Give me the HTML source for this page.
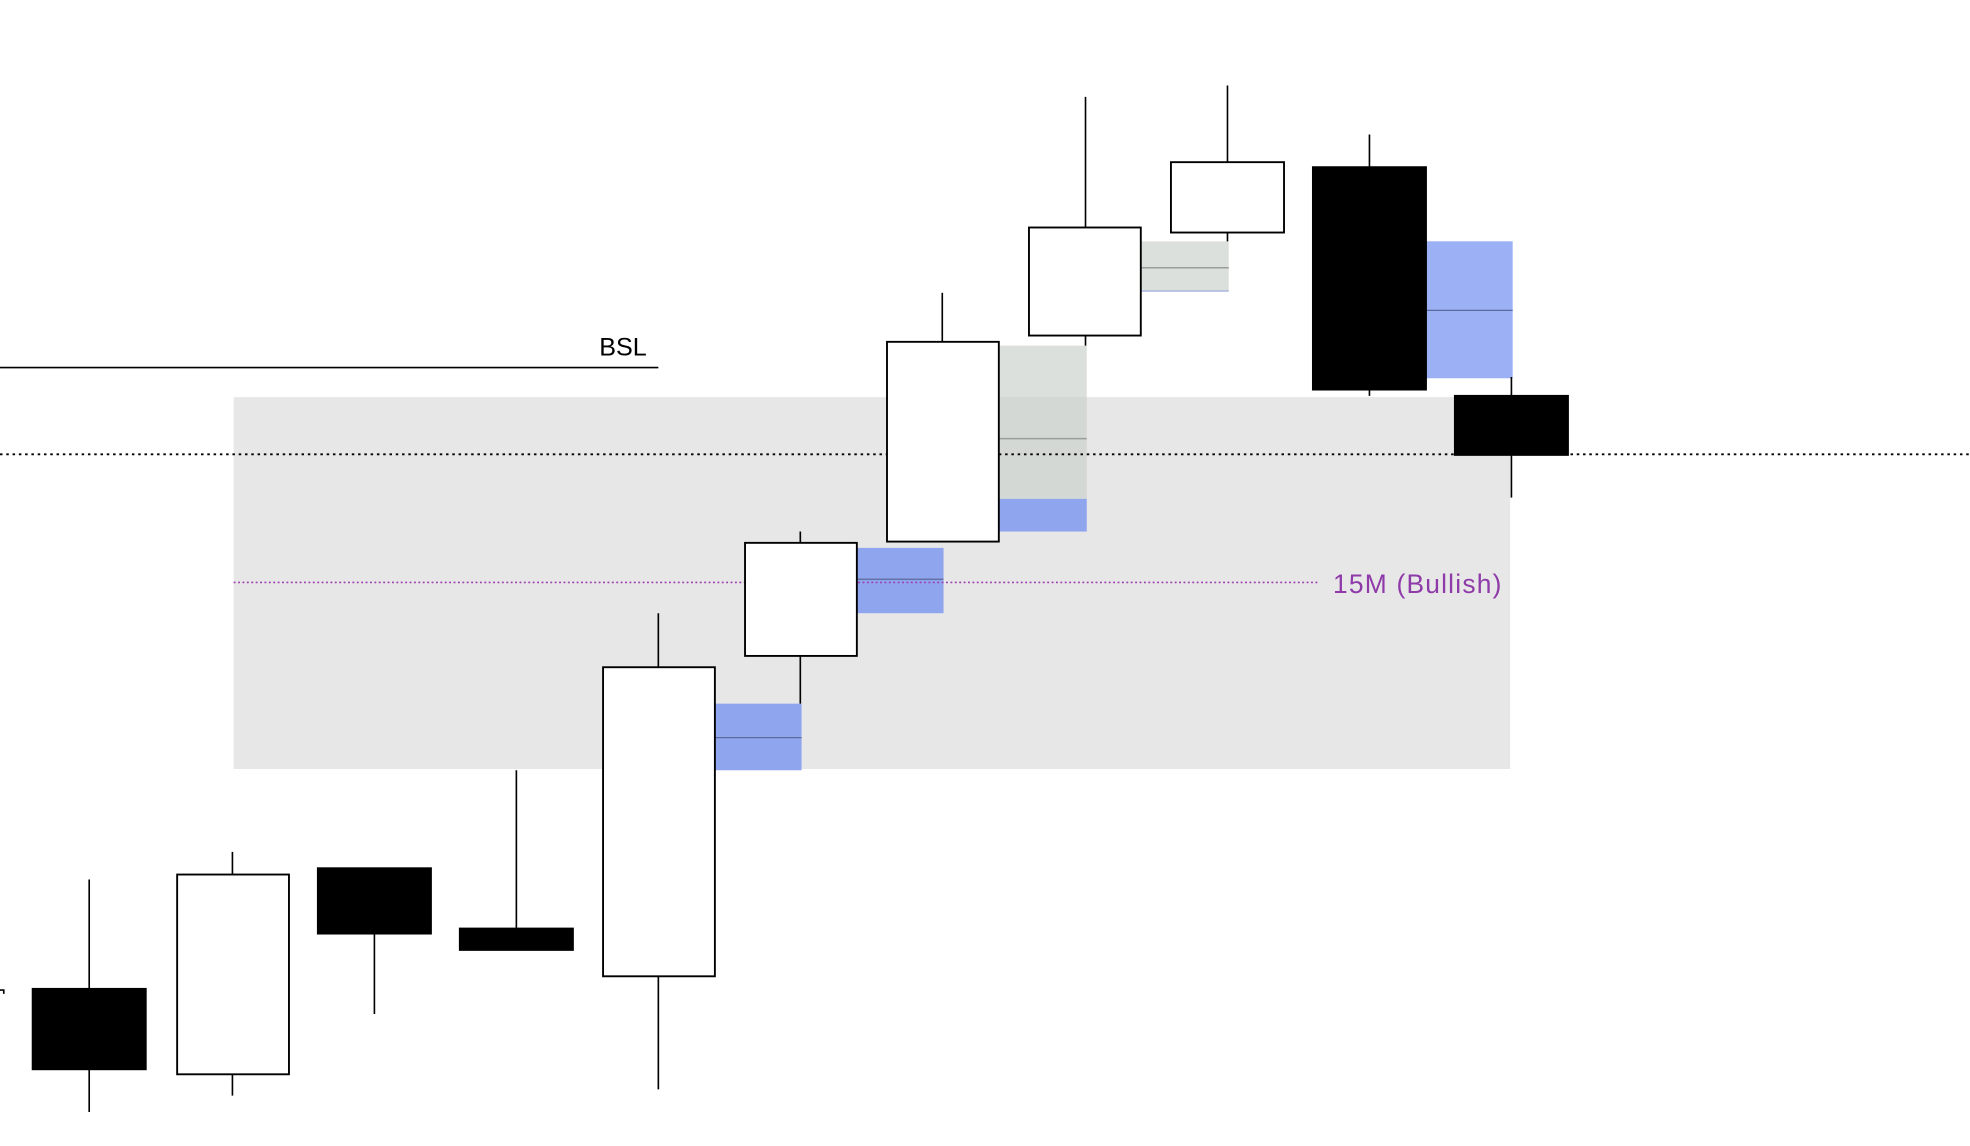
<!DOCTYPE html>
<html><head><meta charset="utf-8"><style>html,body{margin:0;padding:0;background:#fff;}svg{display:block}</style></head>
<body>
<svg width="1970" height="1146" viewBox="0 0 1568 912" xmlns="http://www.w3.org/2000/svg">
<rect x="186" y="316" width="1016" height="296" fill="#e7e7e7"/>
<rect x="795" y="275" width="70" height="122" fill="#c9d0c9" fill-opacity="0.65"/>
<line x1="795" y1="349" x2="865" y2="349" stroke="#999c99" stroke-width="1.2"/>
<rect x="908" y="192" width="70" height="40" fill="#c9d0c9" fill-opacity="0.65"/>
<line x1="908" y1="213" x2="978" y2="213" stroke="#999c99" stroke-width="1.2"/>
<line x1="908" y1="231.5" x2="978" y2="231.5" stroke="#a9b8e0" stroke-width="1.2"/>
<rect x="569" y="560" width="69" height="53" fill="#8fa5ee"/>
<line x1="569" y1="587" x2="638" y2="587" stroke="#5a6a9a" stroke-width="1"/>
<rect x="682" y="436" width="69" height="52" fill="#8fa5ee"/>
<line x1="682" y1="461" x2="751" y2="461" stroke="#5a6a9a" stroke-width="1"/>
<rect x="795" y="397" width="70" height="26" fill="#8fa5ee"/>
<rect x="1135" y="192" width="69" height="109" fill="#9bb0f5"/>
<line x1="1135" y1="247" x2="1204" y2="247" stroke="#5a6a9a" stroke-width="1"/>
<line x1="0" y1="292.5" x2="524" y2="292.5" stroke="#000" stroke-width="1.3"/>
<text x="477" y="283" font-family="Liberation Sans, sans-serif" font-size="20" fill="#000">BSL</text>
<line x1="0" y1="361.5" x2="1568" y2="361.5" stroke="#000" stroke-width="1.5" stroke-dasharray="2,3"/>
<line x1="186" y1="463.5" x2="1050" y2="463.5" stroke="#9c3fb0" stroke-width="1.3" stroke-dasharray="1.5,2"/>
<text x="1061" y="472" font-family="Liberation Sans, sans-serif" font-size="21" fill="#8e3aa8" textLength="134">15M (Bullish)</text>
<path d="M0 788 H3 V791" fill="none" stroke="#000" stroke-width="1.3"/>
<g stroke="#000" stroke-width="1.3">
<line x1="71" y1="700" x2="71" y2="885"/>
<line x1="185" y1="678" x2="185" y2="872"/>
<line x1="298" y1="743" x2="298" y2="807"/>
<line x1="411" y1="613" x2="411" y2="739"/>
<line x1="524" y1="488" x2="524" y2="867"/>
<line x1="637" y1="423" x2="637" y2="560"/>
<line x1="750" y1="233" x2="750" y2="272"/>
<line x1="864" y1="77" x2="864" y2="275"/>
<line x1="977" y1="68" x2="977" y2="192"/>
<line x1="1090" y1="107" x2="1090" y2="315"/>
<line x1="1203" y1="300" x2="1203" y2="396"/>
</g>
<g stroke="#000" stroke-width="1.5">
<rect x="26" y="787" width="90" height="64" fill="#000"/>
<rect x="141" y="696" width="89" height="159" fill="#fff"/>
<rect x="253" y="691" width="90" height="52" fill="#000"/>
<rect x="366" y="739" width="90" height="17" fill="#000"/>
<rect x="480" y="531" width="89" height="246" fill="#fff"/>
<rect x="593" y="432" width="89" height="90" fill="#fff"/>
<rect x="706" y="272" width="89" height="159" fill="#fff"/>
<rect x="819" y="181" width="89" height="86" fill="#fff"/>
<rect x="932" y="129" width="90" height="56" fill="#fff"/>
<rect x="1045" y="133" width="90" height="177" fill="#000"/>
<rect x="1158" y="315" width="90" height="47" fill="#000"/>
</g>
</svg>
</body></html>
